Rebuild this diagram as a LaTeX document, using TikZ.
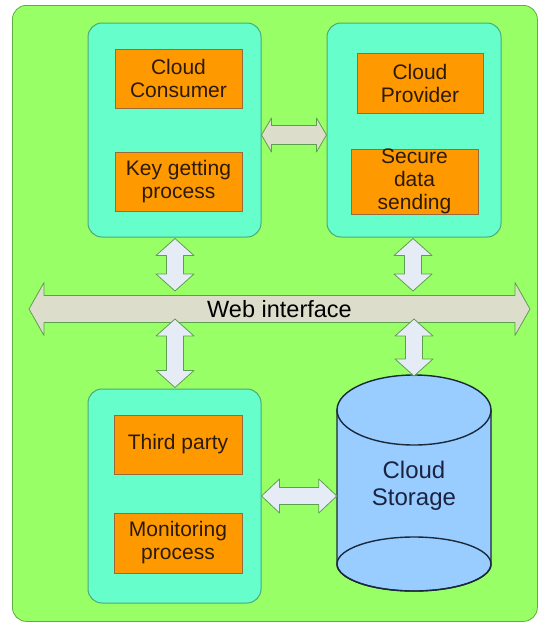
\documentclass[tikz,border=0pt]{standalone}
\usepackage{fontspec}
\setmainfont{Liberation Sans}
\usetikzlibrary{calc}
\definecolor{bggreen}{HTML}{99FF66}
\definecolor{bgedge}{HTML}{5FAE3F}
\definecolor{cyanbox}{HTML}{66FFCC}
\definecolor{cyanedge}{HTML}{4FA878}
\definecolor{orangebox}{HTML}{FF9900}
\definecolor{orangeedge}{HTML}{9A6A3A}
\definecolor{beige}{HTML}{DDDDCC}
\definecolor{paleblue}{HTML}{E6ECF6}
\definecolor{arrowedge}{HTML}{5E9E50}
\definecolor{cylfill}{HTML}{99CCFF}
\definecolor{cyledge}{HTML}{1A2A3A}
\definecolor{darktext}{HTML}{2B1A0A}
\definecolor{navytext}{HTML}{1A2440}
\tikzset{
  frame/.style={draw=bgedge, fill=bggreen, rounded corners=14pt, line width=0.8pt, inner sep=0pt},
  panel/.style={draw=cyanedge, fill=cyanbox, rounded corners=14pt, line width=1pt, inner sep=0pt},
  task/.style={draw=orangeedge, fill=orangebox, line width=0.6pt, inner sep=0pt, align=center,
    text=darktext, font=\fontsize{21}{23}\selectfont},
  blockarrow/.style n args={3}{to path={let \p1=(\tikztostart), \p2=(\tikztotarget),
    \n1={atan2(\y2-\y1,\x2-\x1)}, \n2={veclen(\x2-\x1,\y2-\y1)} in
    {[shift={(\p1)}, rotate=\n1]
      (0pt,0pt) -- (#1pt,#2pt) -- (#1pt,#3pt) -- ({\n2-#1pt},{#3pt}) -- ({\n2-#1pt},{#2pt})
      -- ({\n2},0pt) -- ({\n2-#1pt},{-#2pt}) -- ({\n2-#1pt},{-#3pt}) -- (#1pt,{-#3pt})
      -- (#1pt,{-#2pt}) -- cycle}}},
  webarrow/.style={draw=arrowedge, fill=beige, line width=0.8pt, line join=round, blockarrow={15}{26.5}{13.5}},
  linkbeige/.style={draw=arrowedge, fill=beige, line width=0.8pt, line join=round, blockarrow={10}{17}{9.5}},
  linkpale/.style={draw=arrowedge, fill=paleblue, line width=0.8pt, line join=round, blockarrow={17}{19}{8.5}},
  linkpaleh/.style={draw=arrowedge, fill=paleblue, line width=0.8pt, line join=round, blockarrow={18}{17}{8.5}},
}
\begin{document}
\begin{tikzpicture}[x=1pt, y=-1pt]
\useasboundingbox (0,0) rectangle (538,624);
\fill[white] (0,0) rectangle (538,624);

\node[frame, anchor=north west, minimum width=525, minimum height=616] (frame) at (12,5) {};

% containers
\node[panel, minimum width=173, minimum height=214] (c1) at (174.5,130) {};
\node[panel, minimum width=174, minimum height=214] (c2) at (414,130) {};
\node[panel, minimum width=173, minimum height=214] (c3) at (174.5,496) {};

% tasks
\node[task, minimum width=127, minimum height=59] (o1) at (178.5,78.5) {Cloud\\Consumer};
\node[task, minimum width=127, minimum height=59] (o2) at (178.5,181.5) {Key getting\\process};
\node[task, minimum width=126, minimum height=60] (o3) at (420,83) {Cloud\\Provider};
\node[task, minimum width=127, minimum height=59] (o4) at (414.5,181.5) {Secure\\data\\sending};
\node[task, minimum width=128, minimum height=59] (o5) at (178,444.5) {Third party};
\node[task, minimum width=128, minimum height=60] (o6) at (178,543) {Monitoring\\process};

% cylinder
\draw[fill=cylfill, draw=cyledge, line width=1.4pt]
  (337,410) -- (337,564) arc[start angle=180, end angle=0, x radius=77, y radius=27] -- (491,410) -- cycle;
\draw[draw=cyledge, line width=1.4pt] (414,564) ellipse [x radius=77, y radius=27];
\draw[fill=cylfill, draw=cyledge, line width=1.4pt] (414,410) ellipse [x radius=77, y radius=35];
\node[inner sep=0pt, minimum width=154, minimum height=222, align=center, text=navytext,
  font=\fontsize{24}{27}\selectfont] (cyl) at (414,486) {Cloud\\Storage};
\coordinate (cyltop) at (414,376);

% web interface bus
\coordinate (wl) at (29,309);
\coordinate (wr) at (530,309);
\coordinate (webtop) at (0,291);
\coordinate (webbot) at (0,319);
\draw[webarrow] (wl) to (wr);
\node[inner sep=0pt, font=\fontsize{23.5}{26}\selectfont] (web) at (279.5,309) {Web interface};

% links
\draw[linkbeige] ($(c1.east)+(0,5)$) to ($(c2.west)+(0,5)$);
\draw[linkpale] ($(c1.south)+(0.5,1)$) to ($(c1.south |- webtop)+(0.5,0)$);
\draw[linkpale] ($(c2.south)+(-1,1)$) to ($(c2.south |- webtop)+(-1,0)$);
\draw[linkpale] ($(c3.north |- webbot)+(0.5,0)$) to ($(c3.north)+(0.5,-1)$);
\draw[linkpale] (cyltop |- webbot) to (cyltop);
\draw[linkpaleh] (c3.east) to (c3.east -| cyl.west);
\end{tikzpicture}
\end{document}
